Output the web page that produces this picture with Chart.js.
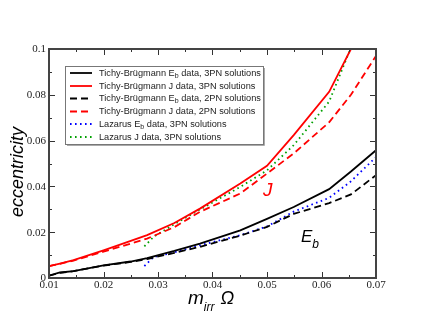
<!DOCTYPE html>
<html>
<head>
<meta charset="utf-8">
<script src="https://cdn.jsdelivr.net/npm/chart.js@4/dist/chart.umd.min.js"></script>
<style>
    html, body { margin: 0; padding: 0; background: #fff; }
    #wrap { width: 423px; height: 327px; }
</style>
</head>
<body>
<div id="wrap"><canvas id="eccChart" width="423" height="327"></canvas></div>
<script>
// Tick values and labels
const xTickValues = [0.01, 0.02, 0.03, 0.04, 0.05, 0.06, 0.07];
const xTickLabels = ['0.01', '0.02', '0.03', '0.04', '0.05', '0.06', '0.07'];
const yTickValues = [0, 0.02, 0.04, 0.06, 0.08, 0.1];
const yTickLabels = ['0', '0.02', '0.04', '0.06', '0.08', '0.1'];

// Tichy-Brugmann data
const tbOmega    = [0.0100, 0.0120, 0.0145, 0.0200, 0.0250, 0.0280, 0.0330, 0.0377, 0.0451, 0.0500, 0.0549, 0.0614, 0.0654, 0.0700];
const tbEb3PN    = [0.0010, 0.0024, 0.0030, 0.0055, 0.0072, 0.0087, 0.0118, 0.0150, 0.0208, 0.0258, 0.0310, 0.0388, 0.0465, 0.0558];
const tbJ3PN     = [0.0052, 0.0063, 0.0078, 0.0121, 0.0162, 0.0187, 0.0240, 0.0303, 0.0413, 0.0490, 0.0624, 0.0813, 0.1000];
const tbEb2PN    = [0.0010, 0.0022, 0.0030, 0.0054, 0.0070, 0.0083, 0.0110, 0.0136, 0.0185, 0.0223, 0.0280, 0.0327, 0.0365, 0.0449];
const tbJ2PN     = [0.0052, 0.0062, 0.0076, 0.0115, 0.0150, 0.0172, 0.0222, 0.0289, 0.0369, 0.0456, 0.0544, 0.0680, 0.0800, 0.0970];

// Lazarus data
const lzOmega    = [0.0275, 0.0292, 0.0330, 0.0377, 0.0451, 0.0500, 0.0549, 0.0614, 0.0653, 0.0700];
const lzEb3PN    = [0.0052, 0.0092, 0.0112, 0.0143, 0.0187, 0.0225, 0.0290, 0.0350, 0.0420, 0.0528];
const lzJ3PN     = [0.0138, 0.0180, 0.0235, 0.0299, 0.0398, 0.0470, 0.0580, 0.0770, 0.1000];

const seriesLabels = [
    'Tichy-Brügmann E_b data, 3PN solutions',
    'Tichy-Brügmann J data, 3PN solutions',
    'Tichy-Brügmann E_b data, 2PN solutions',
    'Tichy-Brügmann J data, 2PN solutions',
    'Lazarus E_b data, 3PN solutions',
    'Lazarus J data, 3PN solutions'
];

function toPoints(xs, ys) {
    return ys.map((v, i) => ({ x: xs[i], y: v }));
}

function makeSet(label, xs, ys, color, dash, width) {
    return {
        label: label,
        data: toPoints(xs, ys),
        borderColor: color,
        borderWidth: width,
        borderDash: dash,
        pointRadius: 0,
        showLine: true,
        fill: false,
        tension: 0
    };
}

const datasets = [
    makeSet(seriesLabels[0], tbOmega, tbEb3PN, '#000000', [], 1.8),
    makeSet(seriesLabels[1], tbOmega, tbJ3PN, '#ff0000', [], 1.8),
    makeSet(seriesLabels[2], tbOmega, tbEb2PN, '#000000', [7, 4], 1.8),
    makeSet(seriesLabels[3], tbOmega, tbJ2PN, '#ff0000', [7, 4], 1.8),
    makeSet(seriesLabels[4], lzOmega, lzEb3PN, '#0000ff', [1.6, 3.4], 1.8),
    makeSet(seriesLabels[5], lzOmega, lzJ3PN, '#00a000', [1.6, 3.4], 1.8)
];

const SANS = '"Liberation Sans", Arial, sans-serif';
const SERIF = '"Liberation Serif", "DejaVu Serif", "Times New Roman", serif';

// draw text followed by a lowered subscript, returns total width
function drawSub(ctx, main, sub, x, y, font, subFont, drop) {
    ctx.font = font;
    ctx.fillText(main, x, y);
    const w = ctx.measureText(main).width;
    ctx.font = subFont;
    ctx.fillText(sub, x + w, y + drop);
    return w + ctx.measureText(sub).width;
}

const overlay = {
    id: 'overlay',
    afterDraw(chart) {
        const { ctx, chartArea: a, scales } = chart;
        const xs = scales.x, ys = scales.y;
        ctx.save();

        // tick marks on all four sides, pointing inward
        ctx.strokeStyle = '#333';
        ctx.lineWidth = 1;
        ctx.beginPath();
        for (let k = 0; k <= 12; k++) {
            const px = Math.round(xs.getPixelForValue(0.01 + k * 0.005)) + 0.5;
            const len = k % 2 === 0 ? 6 : 3;
            ctx.moveTo(px, a.bottom); ctx.lineTo(px, a.bottom - len);
            ctx.moveTo(px, a.top); ctx.lineTo(px, a.top + len);
        }
        for (let k = 0; k <= 10; k++) {
            const py = Math.round(ys.getPixelForValue(k * 0.01)) + 0.5;
            const len = k % 2 === 0 ? 6 : 3;
            ctx.moveTo(a.left, py); ctx.lineTo(a.left + len, py);
            ctx.moveTo(a.right, py); ctx.lineTo(a.right - len, py);
        }
        ctx.stroke();

        // frame
        ctx.strokeStyle = '#444';
        ctx.lineWidth = 2;
        ctx.strokeRect(a.left, a.top, a.right - a.left, a.bottom - a.top);

        // tick labels
        ctx.fillStyle = '#222';
        ctx.font = '11px ' + SERIF;
        ctx.textAlign = 'center';
        ctx.textBaseline = 'middle';
        xTickValues.forEach((v, i) => {
            ctx.fillText(xTickLabels[i], xs.getPixelForValue(v), 285.5);
        });
        ctx.textAlign = 'right';
        yTickValues.forEach((v, i) => {
            ctx.fillText(yTickLabels[i], a.left - 3, ys.getPixelForValue(v) + 0.5);
        });

        // legend box
        const lx = 65, ly = 66, lw = 198, lh = 78;
        ctx.fillStyle = '#fff';
        ctx.fillRect(lx, ly, lw, lh);
        ctx.strokeStyle = '#777';
        ctx.lineWidth = 1;
        ctx.strokeRect(lx + 0.5, ly + 0.5, lw, lh);
        ctx.strokeStyle = '#aaa';
        ctx.beginPath();
        ctx.moveTo(lx + lw + 1.5, ly + 2); ctx.lineTo(lx + lw + 1.5, ly + lh + 1.5); ctx.lineTo(lx + 2, ly + lh + 1.5);
        ctx.stroke();

        const rowY = [73, 86, 98.5, 111.5, 124, 137];
        const f = '9.2px ' + SANS;
        const fs = '7px ' + SANS;
        chart.data.datasets.forEach((ds, i) => {
            const yy = rowY[i];
            ctx.strokeStyle = ds.borderColor;
            ctx.lineWidth = 1.8;
            ctx.setLineDash(ds.borderDash);
            ctx.beginPath();
            ctx.moveTo(70, yy); ctx.lineTo(92, yy);
            ctx.stroke();
            ctx.setLineDash([]);
            ctx.fillStyle = '#222';
            ctx.textBaseline = 'middle';
            ctx.textAlign = 'left';
            const parts = ds.label.split('_b');
            if (parts.length > 1) {
                const w = drawSub(ctx, parts[0], 'b', 99, yy, f, fs, 3);
                ctx.font = f;
                ctx.fillText(parts[1], 99 + w, yy);
            } else {
                ctx.font = f;
                ctx.fillText(ds.label, 99, yy);
            }
        });

        // axis titles
        ctx.fillStyle = '#000';
        ctx.textBaseline = 'alphabetic';
        ctx.save();
        ctx.translate(23, 172);
        ctx.rotate(-Math.PI / 2);
        ctx.textAlign = 'center';
        ctx.font = 'italic 18px ' + SANS;
        ctx.fillText('eccentricity', 0, 0);
        ctx.restore();

        ctx.textAlign = 'left';
        const w1 = drawSub(ctx, 'm', 'irr', 188, 304,
            'italic 19px ' + SANS, 'italic 12px ' + SANS, 7);
        ctx.font = 'italic 18px ' + SANS;
        ctx.fillText('Ω', 188 + w1 + 6, 304);

        // curve annotations
        ctx.fillStyle = '#ff0000';
        ctx.font = 'italic 19px ' + SANS;
        ctx.fillText('J', 263, 196);
        ctx.fillStyle = '#000';
        drawSub(ctx, 'E', 'b', 301, 242, 'italic 17px ' + SANS, 'italic 12px ' + SANS, 6);

        ctx.restore();
    }
};

new Chart(document.getElementById('eccChart').getContext('2d'), {
    type: 'scatter',
    data: { datasets: datasets },
    options: {
        responsive: false,
        animation: false,
        layout: { padding: { left: 0, top: 49, right: 47, bottom: 0 } },
        plugins: { legend: { display: false }, tooltip: { enabled: false } },
        scales: {
            x: {
                type: 'linear',
                min: 0.01,
                max: 0.07,
                grid: { display: false },
                border: { display: false },
                ticks: { display: false },
                afterFit: s => { s.height = 49; }
            },
            y: {
                type: 'linear',
                min: 0,
                max: 0.1,
                grid: { display: false },
                border: { display: false },
                ticks: { display: false },
                afterFit: s => { s.height = undefined; s.width = 49; }
            }
        }
    },
    plugins: [overlay]
});
</script>
</body>
</html>
